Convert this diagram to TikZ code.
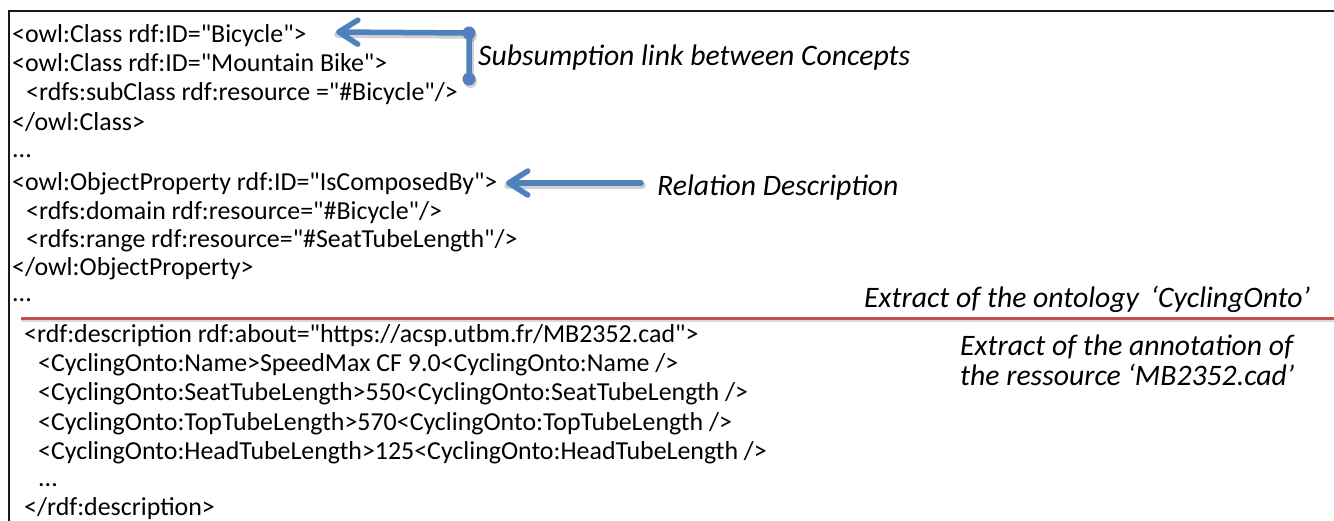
\documentclass[tikz,border=0pt]{standalone}
\usepackage{fontspec}
\setmainfont{Carlito}[Ligatures=TeXOff]
\usetikzlibrary{arrows.meta}
\definecolor{callout}{HTML}{4F81BD}
\definecolor{divider}{HTML}{C0504D}
\definecolor{frameline}{HTML}{1A1A1A}

\begin{document}
\begin{tikzpicture}[x=1pt,y=-1pt,
  code/.style={anchor=base west, inner sep=0pt, font=\fontsize{25.9}{30}\selectfont},
  note/.style={anchor=base west, inner sep=0pt, font=\fontsize{29.7}{34}\selectfont\itshape},
  pointer/.style={draw=callout, line width=5.5pt, line cap=round, line join=round},
  pointer shadow/.style={draw=black, opacity=0.18, line width=6.5pt, line cap=round, line join=round,
    transform canvas={shift={(1.5pt,-2.5pt)}}},
  tip/.style={-{Straight Barb[length=19pt,width=24pt,round]}},
  knob/.style={fill=callout, draw=none},
  knob shadow/.style={fill=black, opacity=0.18, draw=none, transform canvas={shift={(1.5pt,-2.5pt)}}}]
\useasboundingbox (0,0) rectangle (1334,521);

% frame of the listing
\draw[frameline, line width=2pt] (9,521) -- (9,11) -- (1334,11);

% ontology extract
\node[code] (c1)  at (12,43)  {<owl:Class rdf:ID="Bicycle">};
\node[code] (c2)  at (12,72)  {<owl:Class rdf:ID="Mountain Bike">};
\node[code] (c3)  at (26,101) {<rdfs:subClass rdf:resource ="\#Bicycle"/>};
\node[code] (c4)  at (12,131) {</owl:Class>};
\node[code] (c5)  at (12,158) {...};
\node[code] (c6)  at (12,191) {<owl:ObjectProperty rdf:ID="IsComposedBy">};
\node[code] (c7)  at (26,220) {<rdfs:domain rdf:resource="\#Bicycle"/>};
\node[code] (c8)  at (26,248) {<rdfs:range rdf:resource="\#SeatTubeLength"/>};
\node[code] (c9)  at (12,276) {</owl:ObjectProperty>};
\node[code] (c10) at (12,302) {...};

% annotation extract
\node[code] (a1) at (24,343) {<rdf:description rdf:about="https://acsp.utbm.fr/MB2352.cad">};
\node[code] (a2) at (38,372) {<CyclingOnto:Name>SpeedMax CF 9.0<CyclingOnto:Name />};
\node[code] (a3) at (38,401) {<CyclingOnto:SeatTubeLength>550<CyclingOnto:SeatTubeLength />};
\node[code] (a4) at (38,430) {<CyclingOnto:TopTubeLength>570<CyclingOnto:TopTubeLength />};
\node[code] (a5) at (38,459) {<CyclingOnto:HeadTubeLength>125<CyclingOnto:HeadTubeLength />};
\node[code] (a6) at (38,486) {...};
\node[code] (a7) at (24,515) {</rdf:description>};

% separator between the two extracts
\coordinate (sepL) at (21,319);
\coordinate (sepR) at (1334,319);
\draw[black, opacity=0.15, line width=3pt] ([yshift=-2pt]sepL) -- ([yshift=-2pt]sepR);
\draw[divider, line width=3pt] (sepL) -- (sepR);

% annotations
\node[note] (subsum) at (478,66) {Subsumption link between Concepts};
\node[note] (reldesc) at (657,196) {Relation Description};
\node[note] (onto) at (864,308) {Extract of the ontology\hspace{0.4em}‘CyclingOnto’};
\node[note] (annot1) at (960,356) {Extract of the annotation of};
\node[note] (annot2) at (960,386) {the ressource ‘MB2352.cad’};

% subsumption bracket
\coordinate (kTop) at (469,33);
\coordinate (kBot) at (469,79);
\coordinate (subTip) at (336,32);
\draw[pointer shadow] (kBot) -- (kTop) -- (subTip);
\fill[knob shadow] (kTop) circle (6.5);
\fill[knob shadow] (kBot) circle (6.5);
\draw[pointer, tip] (kBot) -- (kTop) -- (subTip);
\fill[knob] (kTop) circle (6.5);
\fill[knob] (kBot) circle (6.5);

% relation pointer
\coordinate (relTail) at (641,183);
\coordinate (relTip) at (506,183);
\draw[pointer shadow] (relTail) -- (relTip);
\draw[pointer, tip] (relTail) -- (relTip);
\end{tikzpicture}
\end{document}
